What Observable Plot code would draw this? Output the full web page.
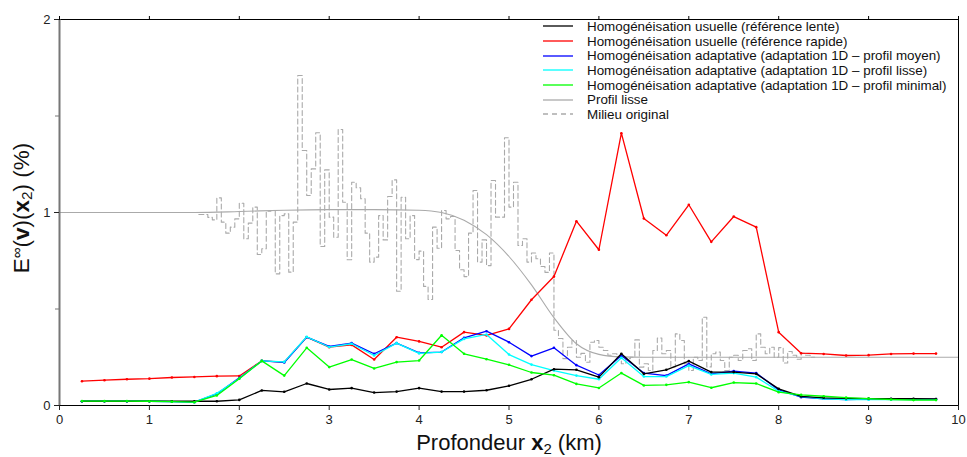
<!DOCTYPE html>
<html><head><meta charset="utf-8">
<script src="https://cdn.jsdelivr.net/npm/d3@7"></script>
<script src="https://cdn.jsdelivr.net/npm/@observablehq/plot@0.6"></script>
<style>
body{margin:0;background:#fff;font-family:"Liberation Sans",Arial,sans-serif}
#wrap{position:relative;width:967px;height:457px;overflow:hidden}
#legend{position:absolute;left:541px;top:19px;font-size:13.4px;color:#111}
.row{height:14.7px;display:flex;align-items:center;white-space:nowrap}
.row svg{margin-right:12px;flex:none}
#xt{position:absolute;left:0;width:1018px;top:431px;text-align:center;font-size:22px;line-height:24px;color:#111}
#yt{position:absolute;left:22px;top:208px;transform:translate(-50%,-50%) rotate(-90deg);font-size:22.5px;line-height:24px;white-space:nowrap;color:#111}
sub{font-size:0.68em;vertical-align:-0.25em}
sup{font-size:0.68em;vertical-align:0.45em}
</style></head>
<body><div id="wrap"></div>
<script>
// Depth sample points of the error curves (km)
const depth = [0.25,0.5,0.75,1,1.25,1.5,1.75,2,2.25,2.5,2.75,3,3.25,3.5,3.75,4,4.25,4.5,4.75,5,5.25,5.5,5.75,6,6.25,6.5,6.75,7,7.25,7.5,7.75,8,8.25,8.5,8.75,9,9.25,9.5,9.75];
const usuelleLente = [0.022,0.022,0.022,0.022,0.022,0.022,0.022,0.029,0.078,0.071,0.114,0.083,0.09,0.067,0.072,0.09,0.072,0.072,0.079,0.102,0.136,0.188,0.185,0.147,0.268,0.164,0.185,0.23,0.173,0.173,0.164,0.086,0.047,0.04,0.037,0.036,0.035,0.035,0.034];
const usuelleRapide = [0.126,0.131,0.136,0.139,0.145,0.148,0.152,0.153,0.231,0.225,0.354,0.302,0.314,0.238,0.354,0.332,0.302,0.38,0.363,0.397,0.548,0.668,0.955,0.807,1.411,0.969,0.882,1.04,0.848,0.979,0.924,0.38,0.271,0.267,0.259,0.261,0.267,0.269,0.269];
const adaptMoyen = [0.022,0.022,0.022,0.022,0.02,0.017,0.06,0.143,0.231,0.223,0.354,0.306,0.323,0.268,0.323,0.273,0.277,0.351,0.385,0.328,0.256,0.299,0.209,0.158,0.259,0.168,0.155,0.216,0.164,0.178,0.168,0.081,0.043,0.035,0.031,0.033,0.033,0.033,0.033];
const adaptLisse = [0.022,0.022,0.022,0.022,0.02,0.017,0.063,0.14,0.231,0.226,0.356,0.303,0.32,0.259,0.323,0.27,0.277,0.345,0.368,0.264,0.212,0.181,0.155,0.136,0.247,0.15,0.15,0.207,0.161,0.168,0.147,0.074,0.047,0.035,0.03,0.03,0.03,0.03,0.03];
const adaptMinimal = [0.023,0.023,0.023,0.022,0.02,0.017,0.052,0.139,0.231,0.155,0.299,0.199,0.238,0.192,0.225,0.233,0.364,0.268,0.24,0.211,0.171,0.157,0.112,0.091,0.168,0.104,0.107,0.121,0.092,0.119,0.114,0.069,0.055,0.048,0.041,0.036,0.031,0.028,0.028];

// Smooth profile (Profil lisse)
const lisseX = [0,0.5,1,1.5,2,2.5,3,3.5,4,4.25,4.5,4.75,5,5.25,5.5,5.75,6,6.25,6.5,7,8,9,10];
const lisseV = [1,1,1,1,1.005,1.012,1.015,1.015,1.012,1.0,0.96,0.885,0.772,0.625,0.455,0.32,0.265,0.252,0.25,0.25,0.25,0.25,0.25];

// Original medium (Milieu original): piecewise-constant layers
const milieuStart = 1.55, milieuLayer = 0.05;
const milieu = [0.99,0.99,0.975,0.962,1.076,0.95,0.893,0.924,0.967,1.048,0.864,0.945,1.028,0.782,0.812,1.007,1.01,0.682,0.984,0.993,0.691,0.95,1.71,1.321,1.088,1.226,1.413,0.824,1.221,0.976,0.872,1.43,1.053,0.755,1.157,1.128,1.071,0.893,0.743,0.769,0.984,0.858,1.083,1.169,0.592,1.079,0.864,0.984,0.756,0.8,0.617,0.549,0.924,0.815,1.01,0.967,0.979,0.803,0.703,0.668,0.893,1.114,0.743,0.858,0.725,1.166,0.976,0.976,1.387,1.028,1.157,0.829,0.864,0.743,0.79,0.76,0.72,0.69,0.79,0.39,0.347,0.243,0.302,0.337,0.25,0.27,0.224,0.328,0.337,0.302,0.285,0.26,0.268,0.25,0.216,0.243,0.25,0.34,0.199,0.216,0.181,0.285,0.35,0.268,0.285,0.2,0.371,0.337,0.216,0.181,0.25,0.233,0.457,0.2,0.268,0.277,0.233,0.181,0.25,0.26,0.233,0.285,0.294,0.233,0.371,0.302,0.268,0.302,0.25,0.3,0.22,0.28,0.26,0.24,0.27,0.26,0.25];

const xTicks = [0,1,2,3,4,5,6,7,8,9,10];
const yTicks = [0,1,2];
const yMinor = [0.5,1.5];

const series = [
  {name:"Homogénéisation usuelle (référence lente)", color:"#000000", v:usuelleLente},
  {name:"Homogénéisation usuelle (référence rapide)", color:"#ff0000", v:usuelleRapide},
  {name:"Homogénéisation adaptative (adaptation 1D – profil moyen)", color:"#0000ff", v:adaptMoyen},
  {name:"Homogénéisation adaptative (adaptation 1D – profil lisse)", color:"#00ffff", v:adaptLisse},
  {name:"Homogénéisation adaptative (adaptation 1D – profil minimal)", color:"#00ff00", v:adaptMinimal}
];
const drawOrder = [1,2,3,0,4];

const lisseData = lisseX.map((x,i)=>({x, y:lisseV[i]}));
const milieuData = milieu.map((v,i)=>({x: milieuStart + i*milieuLayer, y:v}));
milieuData.push({x: milieuStart + milieu.length*milieuLayer, y: milieu[milieu.length-1]});

const marks = [
  Plot.line(lisseData, {x:"x", y:"y", stroke:"#aaaaaa", strokeWidth:1.1, curve:"monotone-x"}),
  Plot.line(milieuData, {x:"x", y:"y", stroke:"#aaaaaa", strokeWidth:1.1, strokeDasharray:"5,3", curve:"step-after"})
];
for (const i of drawOrder) {
  const s = series[i];
  const d = depth.map((x,j)=>({x, y:s.v[j]}));
  marks.push(Plot.line(d, {x:"x", y:"y", stroke:s.color, strokeWidth:1.3}));
  marks.push(Plot.dot(d, {x:"x", y:"y", r:1.3, fill:s.color, stroke:null}));
}
marks.push(
  Plot.frame({stroke:"#000", strokeWidth:1}),
  Plot.ruleX([0], {stroke:"#777", strokeWidth:2}),
  Plot.axisX({ticks:xTicks, tickSize:5, tickPadding:4, fontSize:13, label:null, color:"#222", tickFormat:d=>String(d)}),
  Plot.axisX({anchor:"top", ticks:xTicks, tickSize:4, tickFormat:()=>"", label:null}),
  Plot.axisY({ticks:yTicks, tickSize:5, tickPadding:4, fontSize:13, label:null, color:"#222", tickFormat:d=>String(d)}),
  Plot.axisY({ticks:yMinor, tickSize:4, tickFormat:()=>"", label:null, stroke:"#777"})
);

const chart = Plot.plot({
  width:967, height:457,
  marginLeft:59, marginRight:9, marginTop:19, marginBottom:52,
  x:{domain:[0,10]},
  y:{domain:[0,2]},
  style:{fontFamily:'"Liberation Sans", Arial, sans-serif', background:"#fff"},
  marks
});
const wrap = document.getElementById("wrap");
wrap.appendChild(chart);

// Legend
const leg = document.createElement("div");
leg.id = "legend";
const rows = series.map(s=>({name:s.name, color:s.color, dash:null}))
  .concat([{name:"Profil lisse", color:"#aaaaaa", dash:null},{name:"Milieu original", color:"#aaaaaa", dash:"5,4"}]);
for (const r of rows) {
  const row = document.createElement("div");
  row.className = "row";
  row.innerHTML = `<svg width="34" height="6"><line x1="2" x2="32" y1="3" y2="3" stroke="${r.color}" stroke-width="1.3" ${r.dash?`stroke-dasharray="${r.dash}"`:""}/></svg><span>${r.name}</span>`;
  leg.appendChild(row);
}
wrap.appendChild(leg);

const xt = document.createElement("div");
xt.id = "xt";
xt.innerHTML = `Profondeur <b>x</b><sub>2</sub> (km)`;
wrap.appendChild(xt);
const yt = document.createElement("div");
yt.id = "yt";
yt.innerHTML = `E<sup>∞</sup>(<b>v</b>)(<b>x</b><sub>2</sub>) (%)`;
wrap.appendChild(yt);
</script></body></html>
